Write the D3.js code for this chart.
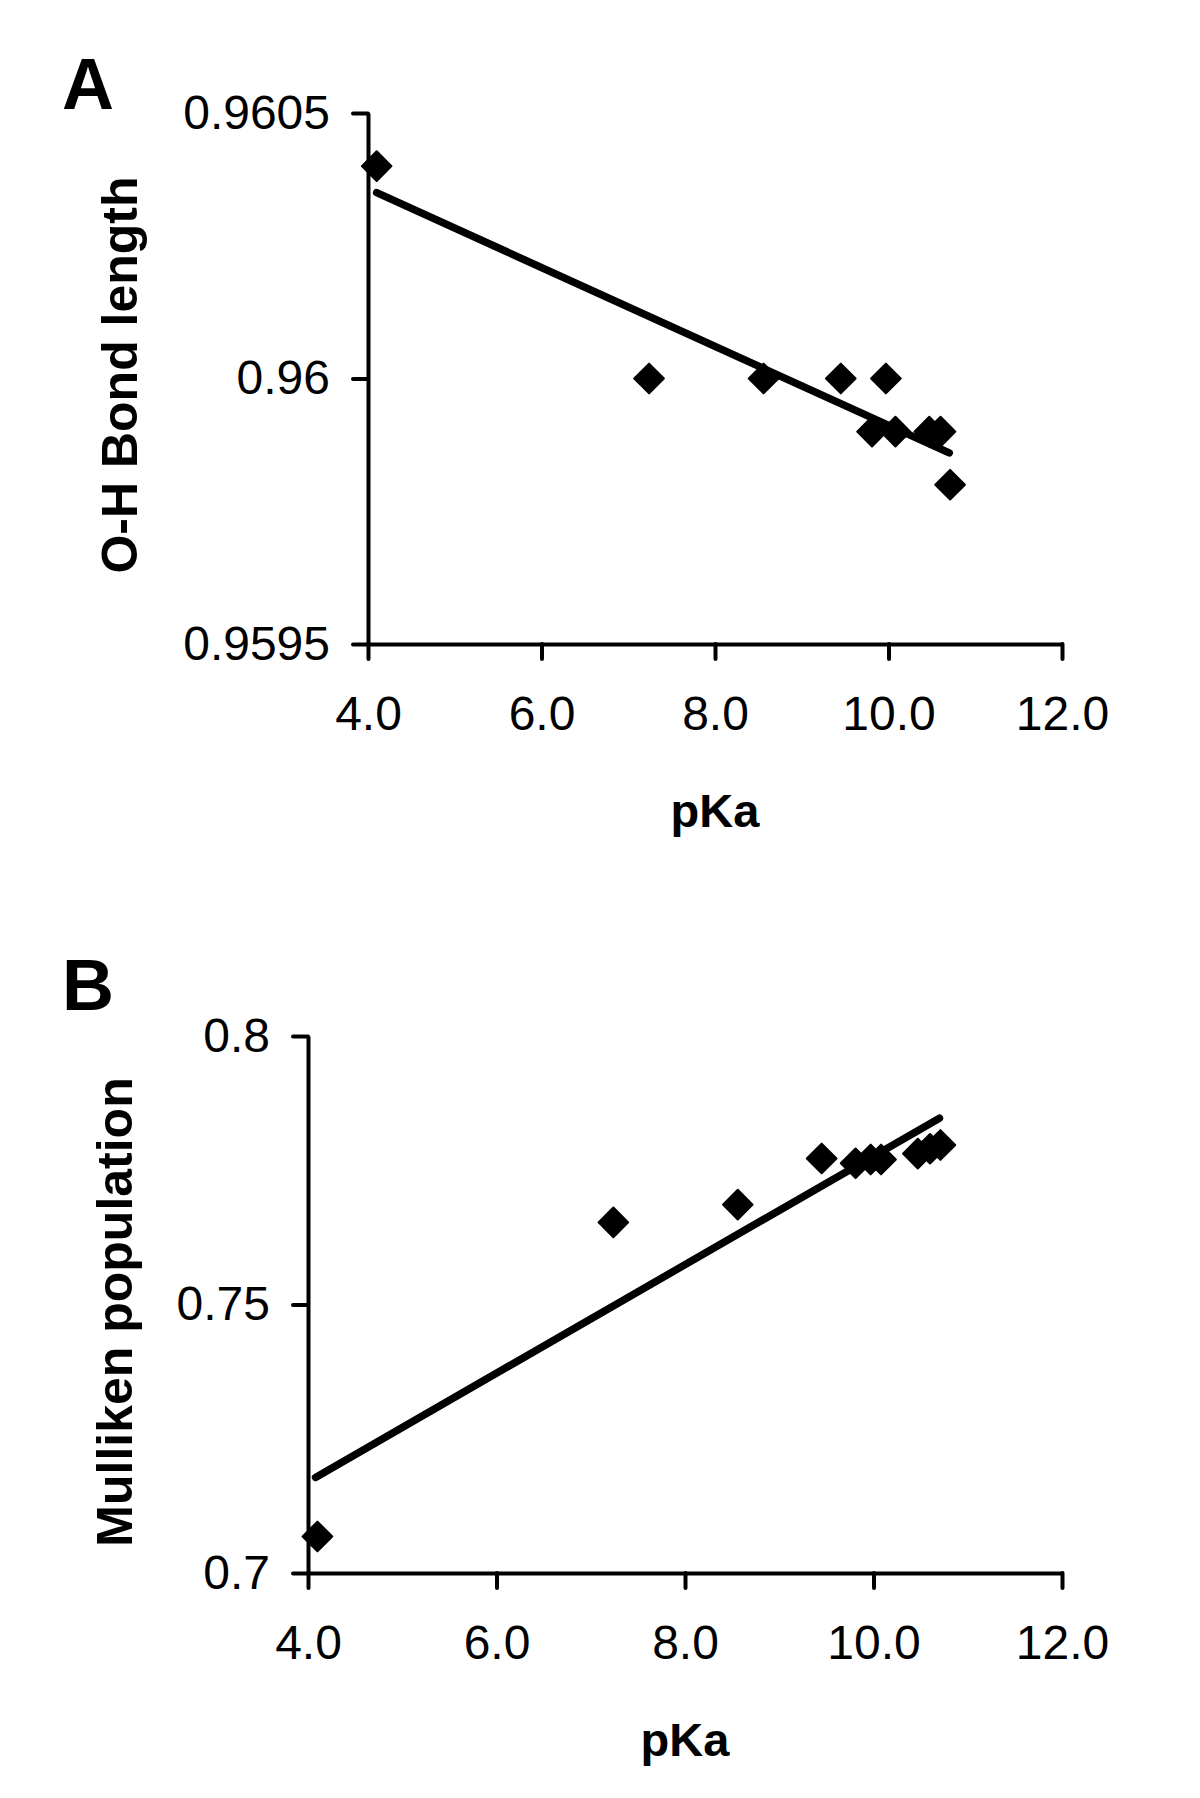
<!DOCTYPE html>
<html>
<head>
<meta charset="utf-8">
<script src="https://cdn.jsdelivr.net/npm/d3@7"></script>
<style>
  html, body { margin: 0; padding: 0; background: #ffffff; }
  svg { display: block; }
  text { font-family: "Liberation Sans", Arial, Helvetica, sans-serif; fill: #000; }
</style>
</head>
<body>
<svg id="chart" width="1200" height="1798"></svg>
<script>
// ---------- data ----------
const pKa = [4.1, 7.24, 8.56, 9.45, 9.81, 9.97, 10.08, 10.47, 10.6, 10.71];
const bondLength = [0.9604, 0.9600, 0.9600, 0.9600, 0.9599, 0.9600, 0.9599, 0.9599, 0.9599, 0.9598];
const mulliken = [0.7068, 0.7653, 0.7686, 0.7772, 0.7763, 0.7770, 0.7770, 0.7781, 0.7790, 0.7797];

// trendline end points
const trendA_x = [4.1, 10.7];
const trendA_y = [0.96035, 0.95986];
const trendB_x = [4.08, 10.7];
const trendB_y = [0.7178, 0.7847];

// axis ticks
const xTicks = [4, 6, 8, 10, 12];
const xTickLabels = ["4.0", "6.0", "8.0", "10.0", "12.0"];
const yTicksA = [0.9595, 0.96, 0.9605];
const yTickLabelsA = ["0.9595", "0.96", "0.9605"];
const yTicksB = [0.7, 0.75, 0.8];
const yTickLabelsB = ["0.7", "0.75", "0.8"];

const panelLetters = ["A", "B"];
const yTitles = ["O-H Bond length", "Mulliken population"];
const xTitle = "pKa";

// ---------- drawing ----------
const svg = d3.select("#chart");
svg.append("rect").attr("width", 1200).attr("height", 1798).attr("fill", "#ffffff");

const panels = [
  { letter: panelLetters[0], yTitle: yTitles[0], ys: bondLength, tx: trendA_x, ty: trendA_y,
    yTicks: yTicksA, yLabels: yTickLabelsA, yDomain: [0.9595, 0.9605],
    left: 368, right: 1062, top: 113, bottom: 644,
    letterX: 62, letterY: 109, yTitleX: 137, yTitleY: 375, xTitleY: 827 },
  { letter: panelLetters[1], yTitle: yTitles[1], ys: mulliken, tx: trendB_x, ty: trendB_y,
    yTicks: yTicksB, yLabels: yTickLabelsB, yDomain: [0.7, 0.8],
    left: 308, right: 1062, top: 1036, bottom: 1573,
    letterX: 62, letterY: 1010, yTitleX: 132, yTitleY: 1312, xTitleY: 1756 }
];

panels.forEach(p => {
  const g = svg.append("g");
  const x = d3.scaleLinear().domain([4, 12]).range([p.left, p.right]);
  const y = d3.scaleLinear().domain(p.yDomain).range([p.bottom, p.top]);

  // x axis
  const xAxis = d3.axisBottom(x)
    .tickValues(xTicks)
    .tickFormat((d, i) => xTickLabels[i])
    .tickSize(15).tickSizeOuter(0).tickPadding(37);
  const gx = g.append("g").attr("transform", `translate(0,${p.bottom})`).call(xAxis);

  // y axis
  const yAxis = d3.axisLeft(y)
    .tickValues(p.yTicks)
    .tickFormat((d, i) => p.yLabels[i])
    .tickSize(15).tickSizeOuter(0).tickPadding(23);
  const gy = g.append("g").attr("transform", `translate(${p.left},0)`).call(yAxis);

  [gx, gy].forEach(a => {
    a.select(".domain").attr("stroke", "#000").attr("stroke-width", 4);
    a.selectAll(".tick line").attr("stroke", "#000").attr("stroke-width", 4).attr("stroke-linecap", "round");
    a.selectAll(".tick text")
      .style("font-family", '"Liberation Sans", Arial, sans-serif')
      .style("font-size", "48px").attr("fill", "#000");
  });

  // points (diamonds)
  const sym = d3.symbol().type(d3.symbolSquare).size(440);
  g.append("g").selectAll("path")
    .data(pKa.map((v, i) => [v, p.ys[i]]))
    .join("path")
    .attr("d", sym)
    .attr("transform", d => `translate(${x(d[0])},${y(d[1])}) rotate(45)`)
    .attr("fill", "#000").attr("stroke", "#000").attr("stroke-width", 2)
    .attr("stroke-linejoin", "round");

  // trendline
  const line = d3.line().x(d => x(d[0])).y(d => y(d[1]));
  g.append("path")
    .datum(p.tx.map((v, i) => [v, p.ty[i]]))
    .attr("d", line)
    .attr("fill", "none").attr("stroke", "#000")
    .attr("stroke-width", 7.5).attr("stroke-linecap", "round");

  // titles
  g.append("text")
    .attr("x", p.letterX).attr("y", p.letterY)
    .style("font-size", "72px").style("font-weight", "bold")
    .text(p.letter);

  g.append("text")
    .attr("transform", `translate(${p.yTitleX},${p.yTitleY}) rotate(-90)`)
    .attr("text-anchor", "middle")
    .style("font-size", "50px").style("font-weight", "bold")
    .text(p.yTitle);

  g.append("text")
    .attr("x", (p.left + p.right) / 2).attr("y", p.xTitleY)
    .attr("text-anchor", "middle")
    .style("font-size", "47px").style("font-weight", "bold")
    .text(xTitle);
});
</script>
</body>
</html>
